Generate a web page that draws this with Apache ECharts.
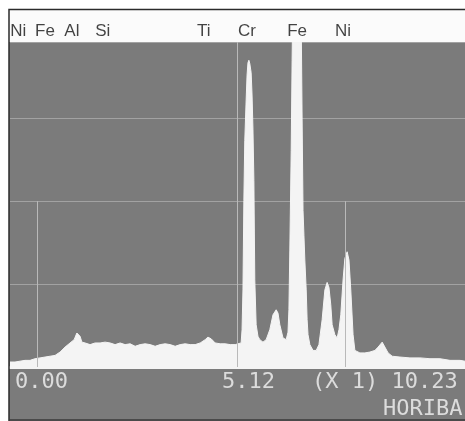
<!DOCTYPE html>
<html>
<head>
<meta charset="utf-8">
<script src="https://cdn.jsdelivr.net/npm/echarts@6/dist/echarts.min.js"></script>
<style>
html,body{margin:0;padding:0;background:#ffffff;}
#c{width:465px;height:421px;}
</style>
</head>
<body>
<div id="c"></div>
<script>
// Spectrum (energy in keV-like screen units, counts in full-scale divisions)
const energy = [0.00,0.11,0.22,0.33,0.44,0.55,0.66,0.77,0.88,0.99,1.10,1.21,1.32,1.41,1.47,1.49,1.54,1.58,1.65,1.76,1.87,1.98,2.09,2.20,2.31,2.42,2.53,2.64,2.75,2.86,2.97,3.08,3.19,3.30,3.41,3.52,3.63,3.74,3.85,3.96,4.07,4.18,4.29,4.35,4.42,4.51,4.62,4.73,4.84,4.95,5.01,5.08,5.10,5.12,5.14,5.16,5.19,5.21,5.23,5.25,5.27,5.30,5.32,5.34,5.36,5.38,5.41,5.45,5.49,5.56,5.63,5.71,5.78,5.85,5.89,5.93,6.00,6.07,6.11,6.13,6.15,6.18,6.20,6.22,6.29,6.37,6.40,6.42,6.44,6.46,6.48,6.51,6.53,6.55,6.59,6.66,6.73,6.79,6.86,6.92,6.97,7.01,7.05,7.08,7.14,7.19,7.23,7.27,7.32,7.36,7.41,7.45,7.49,7.54,7.58,7.69,7.80,7.91,8.02,8.09,8.18,8.24,8.31,8.40,8.57,8.79,9.01,9.23,9.45,9.67,9.89,10.00];
const counts = [0.06,0.06,0.07,0.08,0.08,0.10,0.11,0.12,0.13,0.14,0.18,0.24,0.29,0.33,0.41,0.43,0.37,0.30,0.29,0.27,0.29,0.29,0.30,0.29,0.27,0.29,0.27,0.28,0.25,0.27,0.28,0.27,0.25,0.27,0.28,0.27,0.25,0.27,0.28,0.27,0.27,0.29,0.33,0.36,0.34,0.29,0.28,0.28,0.27,0.27,0.28,0.29,0.45,0.93,2.01,2.73,3.22,3.52,3.67,3.70,3.66,3.55,3.28,2.86,2.25,1.05,0.51,0.37,0.33,0.30,0.33,0.45,0.63,0.69,0.65,0.51,0.35,0.33,0.42,0.69,1.41,2.61,3.70,4.60,4.80,4.60,4.18,2.98,1.89,1.59,1.29,0.93,0.57,0.39,0.27,0.20,0.20,0.27,0.57,0.93,1.02,0.96,0.75,0.51,0.39,0.35,0.45,0.63,1.05,1.31,1.39,1.29,0.93,0.39,0.20,0.17,0.17,0.18,0.20,0.24,0.30,0.24,0.17,0.13,0.12,0.11,0.11,0.10,0.10,0.08,0.08,0.07];

// Element labels along the top
const elementNames  = ["Ni","Fe","Al","Si","Ti","Cr","Fe","Ni"];
const elementEnergy = [0.18,0.77,1.36,2.04,4.26,5.21,6.31,7.32];
const labelLevel = 4.05;

// Vertical marker lines: [energy, top level]
const markerEnergy = [0.59, 4.99, 7.36];
const markerTop    = [2, 3.92, 2];

// Screen readout texts
const readoutTexts = ["0.00", "5.12", "(X 1) 10.23", "HORIBA"];

const xMax = 10.0, yMax = 3.92;

const spectrum = energy.map((e, i) => [e, counts[i]]);
const labelData = elementNames.map((n, i) => ({ name: n, value: [elementEnergy[i], labelLevel] }));
const markLines = markerEnergy.map((e, i) => [
  { coord: [e, markerTop[i]] }, { coord: [e, 0] }
]);

const chart = echarts.init(document.getElementById('c'), null, { renderer: 'canvas' });
const mono = 'DejaVu Sans Mono';
chart.setOption({
  animation: false,
  backgroundColor: '#7b7b7b',
  grid: { left: 10, right: 0, top: 42, bottom: 54 },
  xAxis: {
    type: 'value', min: 0, max: xMax,
    axisLine: { show: true, lineStyle: { color: '#f4f4f4', width: 3 } },
    axisTick: { show: false }, axisLabel: { show: false }, splitLine: { show: false }
  },
  yAxis: {
    type: 'value', min: 0, max: yMax, interval: 1,
    axisLine: { show: false }, axisTick: { show: false }, axisLabel: { show: false },
    splitLine: { show: true, lineStyle: { color: '#a2a2a2', width: 1 } }
  },
  series: [
    {
      type: 'line', data: spectrum, showSymbol: false, smooth: false, silent: true,
      lineStyle: { color: '#f4f4f4', width: 1 },
      areaStyle: { color: '#f4f4f4', opacity: 1 },
      markLine: {
        silent: true, symbol: 'none', label: { show: false },
        lineStyle: { color: '#b9b9b9', width: 1, type: 'solid' },
        data: markLines
      },
      z: 2
    },
    {
      type: 'scatter', data: labelData, symbolSize: 0, silent: true, clip: false,
      label: {
        show: true, position: 'inside', formatter: p => p.name,
        color: '#141414', fontSize: 17, fontFamily: 'Liberation Sans'
      },
      z: 10
    }
  ],
  graphic: [
    { type: 'rect', shape: { x: 0, y: 0, width: 9, height: 421 }, style: { fill: '#ffffff' }, z: 5 },
    { type: 'rect', shape: { x: 0, y: 0, width: 465, height: 9 }, style: { fill: '#ffffff' }, z: 5 },
    { type: 'rect', shape: { x: 9, y: 9, width: 456, height: 33 }, style: { fill: '#fbfbfb' }, z: 5 },
    { type: 'polyline', shape: { points: [[9, 421], [9, 9.5], [465, 9.5]] }, style: { stroke: '#2b2b2b', lineWidth: 1.5, fill: null }, z: 6 },
    { type: 'line', shape: { x1: 9, y1: 420, x2: 465, y2: 420 }, style: { stroke: '#3a3a3a', lineWidth: 1.5 }, z: 6 },
    { type: 'text', x: 15, y: 371, style: { text: readoutTexts[0], fill: '#dcdcdc', font: '22px ' + mono }, z: 6 },
    { type: 'text', x: 222, y: 371, style: { text: readoutTexts[1], fill: '#dcdcdc', font: '22px ' + mono }, z: 6 },
    { type: 'text', x: 312, y: 371, style: { text: readoutTexts[2], fill: '#dcdcdc', font: '22px ' + mono }, z: 6 },
    { type: 'text', x: 383, y: 398, style: { text: readoutTexts[3], fill: '#dcdcdc', font: '22px ' + mono }, z: 6 }
  ]
});
</script>
</body>
</html>
